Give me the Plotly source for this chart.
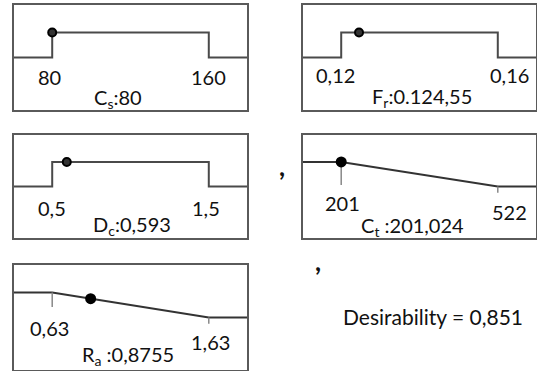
import plotly.graph_objects as go

# ---- data ----
factor_labels = ["C<sub>s</sub>:80", "F<sub>r</sub>:0.124,55", "D<sub>c</sub>:0,593",
                 "C<sub>t</sub> :201,024", "R<sub>a</sub> :0,8755"]
low = [80, 0.12, 0.5, 201, 0.63]
high = [160, 0.16, 1.5, 522, 1.63]
low_text = ["80", "0,12", "0,5", "201", "0,63"]
high_text = ["160", "0,16", "1,5", "522", "1,63"]
current = [80, 0.12455, 0.593, 201.024, 0.8755]
current_d = [1.0, 1.0, 1.0, 1.0, 0.7545]
goal = ["target", "target", "target", "min", "min"]
overall_text = "Desirability = 0,851"

# ---- layout geometry (style) ----
W, H = 537, 371
boxes = [(14, 247, 5, 110), (303, 536, 5, 110), (14, 247, 135, 238),
         (303, 536, 135, 238), (14, 247, 265, 370)]
low_label_y = [-0.78, -0.7, -0.88, -0.67, -0.42]
high_label_y = [-0.78, -0.7, -0.88, -1.04, -0.98]
low_label_dx = [-3, -6, 0, 1, -3]
high_label_dx = [0, 12, -3, 12, 2]
name_y = [-1.62, -1.58, -1.57, -1.65, -1.5]
name_xfrac = [0.446, 0.51, 0.506, 0.472, 0.489]
PAD = 0.244

FONT = "Lato"
LINE = "#4a4a4a"
BOX = "#5a5a5a"
TXT = "#111111"

fig = go.Figure()
layout = dict(width=W, height=H, margin=dict(l=0, r=0, t=0, b=0),
              paper_bgcolor="white", plot_bgcolor="white", showlegend=False)
annotations = []

for i in range(5):
    lo, hi = low[i], high[i]
    span = hi - lo
    xa = "x" if i == 0 else f"x{i+1}"
    ya = "y" if i == 0 else f"y{i+1}"
    xl = "xaxis" if i == 0 else f"xaxis{i+1}"
    yl = "yaxis" if i == 0 else f"yaxis{i+1}"
    x0, x1, y0, y1 = boxes[i]
    layout[xl] = dict(domain=[x0 / W, x1 / W], range=[lo - PAD * span, hi + PAD * span],
                      showline=True, mirror=True, linecolor=BOX, linewidth=2,
                      showticklabels=False, ticks="", showgrid=False, zeroline=False,
                      anchor=ya, fixedrange=True)
    layout[yl] = dict(domain=[1 - y1 / H, 1 - y0 / H], range=[-2.1, 2.1],
                      showline=True, mirror=True, linecolor=BOX, linewidth=2,
                      showticklabels=False, ticks="", showgrid=False, zeroline=False,
                      anchor=xa, fixedrange=True)
    far_l, far_r = lo - span, hi + span
    if goal[i] == "target":
        cx = [far_l, lo, lo, hi, hi, far_r]
        cy = [0, 0, 1, 1, 0, 0]
        fig.add_trace(go.Scatter(x=cx, y=cy, mode="lines", xaxis=xa, yaxis=ya,
                                 line=dict(color=LINE, width=2), hoverinfo="skip"))
        fig.add_trace(go.Scatter(x=[current[i]], y=[current_d[i]], mode="markers",
                                 xaxis=xa, yaxis=ya,
                                 marker=dict(size=8, color="#333333",
                                             line=dict(color="black", width=2))))
    else:
        cx = [far_l, lo, hi, far_r]
        cy = [1, 1, 0, 0]
        fig.add_trace(go.Scatter(x=cx, y=cy, mode="lines", xaxis=xa, yaxis=ya,
                                 line=dict(color="#333333", width=2), hoverinfo="skip"))
        tick_lo_end = 0.06 if i == 3 else 0.42
        fig.add_trace(go.Scatter(x=[lo, lo], y=[1, tick_lo_end], mode="lines",
                                 xaxis=xa, yaxis=ya, line=dict(color="#888888", width=1.5)))
        fig.add_trace(go.Scatter(x=[hi, hi], y=[0, -0.25], mode="lines",
                                 xaxis=xa, yaxis=ya, line=dict(color="#888888", width=1.5)))
        fig.add_trace(go.Scatter(x=[current[i]], y=[current_d[i]], mode="markers",
                                 xaxis=xa, yaxis=ya,
                                 marker=dict(size=11, color="black")))
    f = dict(family=FONT, size=20, color=TXT)
    annotations.append(dict(x=lo, y=low_label_y[i], xref=xa, yref=ya, text=low_text[i],
                            showarrow=False, font=f, xshift=low_label_dx[i],
                            xanchor="center", yanchor="middle"))
    annotations.append(dict(x=hi, y=high_label_y[i], xref=xa, yref=ya, text=high_text[i],
                            showarrow=False, font=f, xshift=high_label_dx[i],
                            xanchor="center", yanchor="middle"))
    dom_x = f"{xa} domain"
    annotations.append(dict(x=name_xfrac[i], y=name_y[i], xref=dom_x, yref=ya,
                            text=factor_labels[i], showarrow=False, font=f,
                            xanchor="center", yanchor="middle"))

# stray commas and overall desirability
annotations.append(dict(x=282 / W, y=1 - 166 / H, xref="paper", yref="paper", text="<b>,</b>",
                        showarrow=False, font=dict(family=FONT, size=26, color=TXT),
                        xanchor="center", yanchor="middle"))
annotations.append(dict(x=318 / W, y=1 - 261 / H, xref="paper", yref="paper", text="<b>,</b>",
                        showarrow=False, font=dict(family=FONT, size=26, color=TXT),
                        xanchor="center", yanchor="middle"))
annotations.append(dict(x=433 / W, y=1 - 316 / H, xref="paper", yref="paper", text=overall_text,
                        showarrow=False, font=dict(family=FONT, size=21, color=TXT),
                        xanchor="center", yanchor="middle"))

layout["annotations"] = annotations
fig.update_layout(**layout)
fig.write_html("out.html", config={"displayModeBar": False},
               post_script="document.body.style.margin='0px';document.body.style.overflow='hidden';")
